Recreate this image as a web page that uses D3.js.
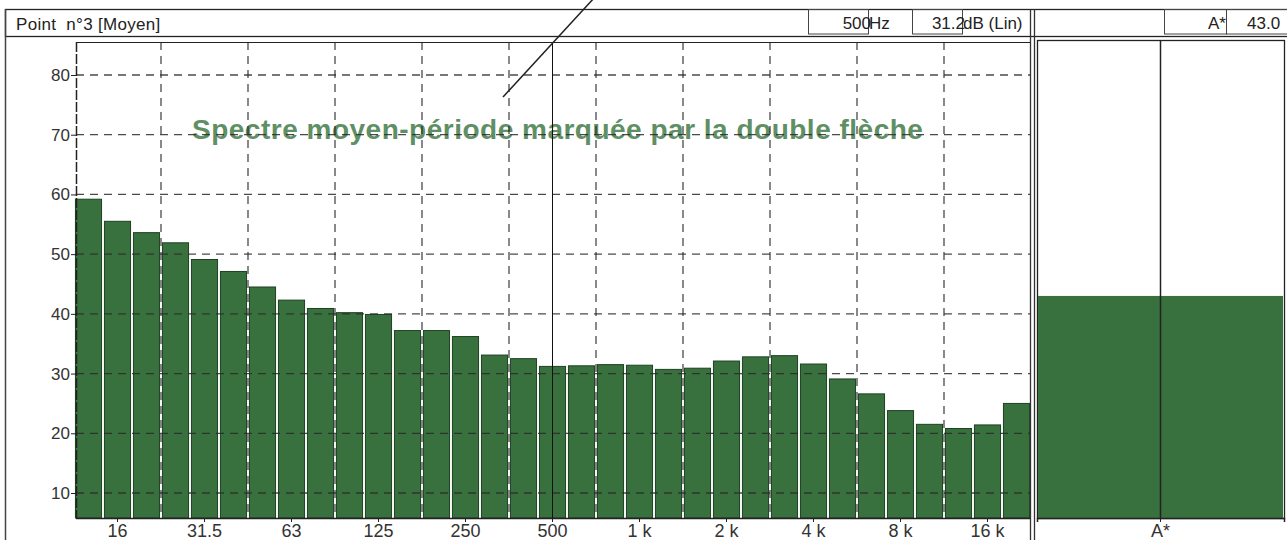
<!DOCTYPE html>
<html>
<head>
<meta charset="utf-8">
<script src="https://cdn.jsdelivr.net/npm/d3@7"></script>
<style>
  body { margin: 0; background: #fff; }
  svg { display: block; font-family: "Liberation Sans", Arial, sans-serif; }
</style>
</head>
<body>
<script>
// third-octave bands, 12.5 Hz .. 20 kHz
var bands = ["12.5","16","20","25","31.5","40","50","63","80","100","125","160","200","250","315","400","500","630","800","1k","1.25k","1.6k","2k","2.5k","3.15k","4k","5k","6.3k","8k","10k","12.5k","16k","20k"];
// levels in dB (Lin)
var levels = [59.2,55.5,53.6,51.9,49.1,47.1,44.5,42.3,40.9,40.2,39.9,37.2,37.2,36.2,33.1,32.5,31.2,31.3,31.5,31.4,30.7,30.9,32.1,32.8,33.0,31.6,29.1,26.6,23.8,21.5,20.8,21.4,25.0];
var xTicks = ["16","31.5","63","125","250","500","1k","2k","4k","8k","16k"];
var yTicks = [10,20,30,40,50,60,70,80];
var globalBands = ["A*"];
var globalLevels = [43.0];
var cursorBand = "500";
var cursorLevel = 31.2;

var W = 1287, H = 540;
var plot = {left: 76, right: 1030, top: 42, bottom: 518};
var side = {left: 1037, right: 1284};

var svg = d3.select("body").append("svg")
  .attr("width", W).attr("height", H);

var x = d3.scaleBand().domain(bands)
  .range([74, 1031]).paddingInner(0.1).paddingOuter(0.05);
var y = d3.scaleLinear().domain([10, 80]).range([493, 75]);
var xA = d3.scaleBand().domain(globalBands).range([side.left, side.right]);

var green = "#38713e", dark = "#1d4222", ink = "#222";
var fs = 17;

// header
svg.append("rect").attr("x", 5.5).attr("y", 9.5).attr("width", 1300).attr("height", 27)
  .attr("fill", "none").attr("stroke", ink).attr("stroke-width", 1.3);
svg.append("line").attr("x1", 5.5).attr("x2", 5.5).attr("y1", 9).attr("y2", H)
  .attr("stroke", "#444").attr("stroke-width", 1.5);
svg.append("text").attr("x", 16).attr("y", 30).attr("font-size", fs).attr("fill", ink)
  .attr("xml:space", "preserve").attr("letter-spacing", 0.3).text("Point  n°3 [Moyen]");

function box(x0, x1) {
  svg.append("rect").attr("x", x0 + 0.5).attr("y", 9.5).attr("width", x1 - x0).attr("height", 24.5)
    .attr("fill", "none").attr("stroke", "#444").attr("stroke-width", 1);
}
function htext(px, anchor, s) {
  svg.append("text").attr("x", px).attr("y", 29).attr("font-size", fs)
    .attr("text-anchor", anchor).attr("fill", ink).text(s);
}
box(808, 868);
htext(871, "end", cursorBand);
htext(869, "start", "Hz");
box(912, 962);
htext(965, "end", d3.format(".1f")(cursorLevel));
htext(963, "start", "dB (Lin)");
box(1164, 1226);
htext(1226, "end", globalBands[0]);
box(1226, 1300);
htext(1247, "start", d3.format(".1f")(globalLevels[0]));

// panel separator (double line)
[1030.5, 1034.5].forEach(function(px) {
  svg.append("line").attr("x1", px).attr("x2", px).attr("y1", 9).attr("y2", H)
    .attr("stroke", "#333").attr("stroke-width", 1.3);
});

// annotation text, under the grid
svg.append("text").attr("x", 192).attr("y", 139)
  .attr("font-size", 28).attr("font-weight", "bold").attr("fill", "#5f8f65")
  .attr("letter-spacing", 0.5)
  .text("Spectre moyen-période marquée par la double flèche");

// bars
svg.append("g").selectAll("rect").data(levels).enter().append("rect")
  .attr("x", function(d, i) { return x(bands[i]); })
  .attr("width", x.bandwidth())
  .attr("y", function(d) { return y(d); })
  .attr("height", function(d) { return plot.bottom - y(d); })
  .attr("fill", green).attr("stroke", dark).attr("stroke-width", 1);

// grid
var grid = svg.append("g").attr("stroke", "#2a2a2a").attr("stroke-width", 1.3)
  .attr("stroke-dasharray", "8,6").attr("stroke-opacity", 0.85);
grid.selectAll(".h").data(yTicks).enter().append("line")
  .attr("x1", plot.left).attr("x2", plot.right)
  .attr("y1", function(d) { return y(d); }).attr("y2", function(d) { return y(d); });
var vIdx = d3.range(3, bands.length, 3);
grid.selectAll(".v").data(vIdx).enter().append("line")
  .attr("x1", function(i) { return x(bands[i]) - x.step() * x.paddingInner() / 2; })
  .attr("x2", function(i) { return x(bands[i]) - x.step() * x.paddingInner() / 2; })
  .attr("y1", plot.top).attr("y2", plot.bottom);

// plot frame
svg.append("line").attr("x1", plot.left).attr("x2", plot.right).attr("y1", plot.top + 0.5).attr("y2", plot.top + 0.5)
  .attr("stroke", ink).attr("stroke-width", 1);
svg.append("line").attr("x1", plot.left + 0.5).attr("x2", plot.left + 0.5).attr("y1", plot.top).attr("y2", plot.bottom)
  .attr("stroke", ink).attr("stroke-width", 1.5).attr("stroke-dasharray", "10,2");

// cursor at 500 Hz
var cx = x(cursorBand) + x.bandwidth() / 2;
svg.append("line").attr("x1", cx).attr("x2", cx).attr("y1", plot.top).attr("y2", plot.bottom)
  .attr("stroke", "#111").attr("stroke-width", 1);

// y axis
var yAxis = svg.append("g").attr("transform", "translate(" + plot.left + ",0)")
  .call(d3.axisLeft(y).tickValues(yTicks).tickSize(5).tickPadding(1));
yAxis.select(".domain").remove();
yAxis.selectAll("text").style("font-size", fs + "px").attr("fill", "#333").attr("font-family", null);
yAxis.selectAll("line").attr("stroke", ink);

// x axis
var xAxis = svg.append("g").attr("transform", "translate(0," + plot.bottom + ")")
  .call(d3.axisBottom(x).tickValues(xTicks).tickSize(4).tickPadding(4)
    .tickFormat(function(d) { return d.replace("k", " k"); }));
xAxis.select(".domain").attr("d", "M" + plot.left + ",0.5H" + plot.right).attr("stroke", ink).attr("stroke-width", 1.5);
xAxis.selectAll("text").style("font-size", "18px").attr("fill", "#333").attr("font-family", null)
  .attr("dy", "0.62em");
xAxis.selectAll("line").attr("stroke", ink);

// pointer line of the annotation (top end outside the page)
svg.append("line").attr("x1", 503).attr("y1", 97).attr("x2", 606).attr("y2", -15)
  .attr("stroke", "#222").attr("stroke-width", 1.5);

// global A* panel
svg.append("rect").attr("x", side.left + 0.5).attr("y", 40.5)
  .attr("width", side.right - side.left).attr("height", plot.bottom - 40)
  .attr("fill", "none").attr("stroke", ink).attr("stroke-width", 1.3);
svg.append("g").selectAll("rect").data(globalLevels).enter().append("rect")
  .attr("x", function(d, i) { return xA(globalBands[i]) + 1; })
  .attr("width", xA.bandwidth() - 2)
  .attr("y", function(d) { return y(d); })
  .attr("height", function(d) { return plot.bottom - y(d); })
  .attr("fill", green);
var ax = xA(globalBands[0]) + xA.bandwidth() / 2;
svg.append("line").attr("x1", ax).attr("x2", ax).attr("y1", 40).attr("y2", plot.bottom)
  .attr("stroke", "#222").attr("stroke-width", 1.5);
var aAxis = svg.append("g").attr("transform", "translate(0," + plot.bottom + ")")
  .call(d3.axisBottom(xA).tickSize(4).tickPadding(4));
aAxis.select(".domain").attr("stroke", ink).attr("stroke-width", 1.5);
aAxis.selectAll("text").style("font-size", "18px").attr("fill", "#333").attr("font-family", null)
  .attr("dy", "0.62em");
aAxis.selectAll("line").attr("stroke", ink);
</script>
</body>
</html>
